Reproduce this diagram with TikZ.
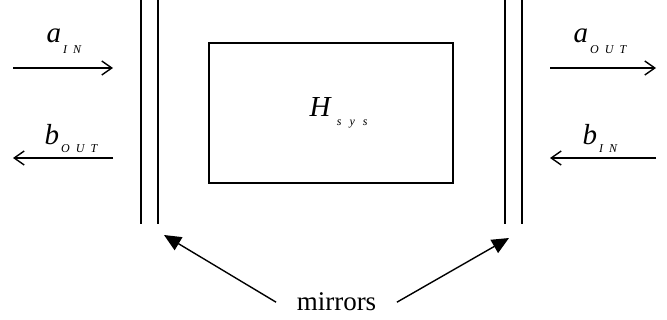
\documentclass[tikz,border=0pt]{standalone}
\usepackage{fontspec}
\setmainfont{Liberation Serif}
\usetikzlibrary{arrows.meta}

\newcommand{\subtxt}[2][10pt]{\raisebox{-#1}{\fontsize{12}{12}\selectfont\itshape #2}}

\begin{document}
\begin{tikzpicture}[x=1pt, y=-1pt, line width=1.4pt,
    flow/.style={-{Straight Barb[length=10pt,width=14pt]}},
    point/.style={-{Triangle[length=17pt,width=15pt]}},
    lbl/.style={inner sep=0pt, anchor=base west, font=\fontsize{29}{32}\selectfont}]
  \useasboundingbox (0,0) rectangle (667,320);

  % the two mirrors
  \draw[line width=1.6pt] (141,0) -- (141,224);
  \draw[line width=1.6pt] (158,0) -- (158,224);
  \draw[line width=1.6pt] (505,0) -- (505,224);
  \draw[line width=1.6pt] (522,0) -- (522,224);

  % system
  \node[draw, line width=1.7pt, minimum width=244pt, minimum height=140pt] (sysbox) at (331,113) {};
  \node[lbl] (hsys) at (309,117) {\textit{H}\hspace{5pt}\subtxt[9pt]{s\hspace{8pt}y\hspace{8pt}s}};

  % beams on the left
  \coordinate (ainl) at (13,68);
  \coordinate (ainr) at (113,68);
  \coordinate (boutl) at (13,158);
  \coordinate (boutr) at (113,158);
  \node[lbl] (ain) at (46,43) {\textit{a}\hspace{2pt}\subtxt[11pt]{I\hspace{6pt}N}};
  \node[lbl] (bout) at (44,145) {\textit{b}\hspace{2pt}\subtxt[8pt]{O\hspace{6pt}U\hspace{6pt}T}};
  \draw[flow] (ainl) -- (ainr);
  \draw[flow] (boutr) -- (boutl);

  % beams on the right
  \coordinate (aoutl) at (550,68);
  \coordinate (aoutr) at (656,68);
  \coordinate (binl) at (550,158);
  \coordinate (binr) at (656,158);
  \node[lbl] (aout) at (573,43) {\textit{a}\hspace{2pt}\subtxt[11pt]{O\hspace{6pt}U\hspace{6pt}T}};
  \node[lbl] (bin) at (582,145) {\textit{b}\hspace{2pt}\subtxt[8pt]{I\hspace{6pt}N}};
  \draw[flow] (aoutl) -- (aoutr);
  \draw[flow] (binr) -- (binl);

  % label for the mirrors
  \node[anchor=base, inner xsep=20pt, inner ysep=0pt, font=\fontsize{27}{30}\selectfont] (mir) at (336.5,311) {mirrors};
  \coordinate (ltip) at (164,235);
  \coordinate (rtip) at (509,238);
  \draw[point] (mir.west) -- (ltip);
  \draw[point] (mir.east) -- (rtip);
\end{tikzpicture}
\end{document}
